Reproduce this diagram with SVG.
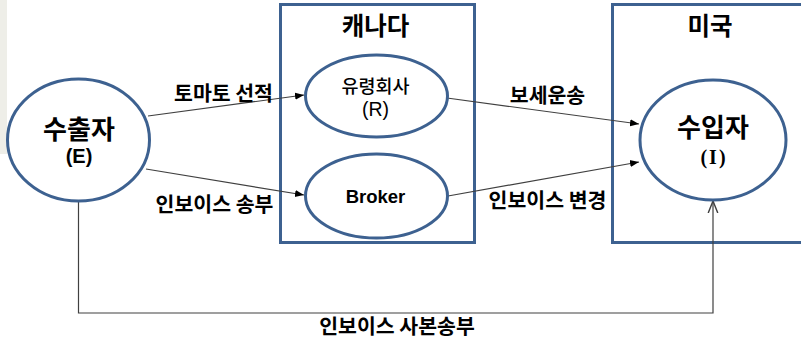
<svg xmlns="http://www.w3.org/2000/svg" width="801" height="339" viewBox="0 0 801 339">
<defs>
<style>
.node{fill:#ffffff;stroke:#3d6190;stroke-width:3}
.box{fill:none;stroke:#3d6190;stroke-width:3}
.con{fill:none;stroke:#404040;stroke-width:1.2}
.t{font-family:"Noto Sans CJK KR","Liberation Sans",sans-serif;font-weight:bold;fill:#000;text-anchor:middle}
.lbl{font-size:20.5px}
.big{font-size:26px}
.ttl{font-size:24.5px}
.lat{font-family:"Liberation Sans",sans-serif;fill:#000;text-anchor:middle}
.ser{font-family:"Liberation Serif",serif;font-weight:bold;font-size:20px;text-anchor:middle;letter-spacing:2px}
</style>
<marker id="ah" viewBox="0 0 10 10" refX="10" refY="5" markerWidth="9" markerHeight="9" markerUnits="userSpaceOnUse" orient="auto">
<path d="M0,1 L10,5 L0,9 Z" fill="#000"/>
</marker>
<marker id="oh" viewBox="0 0 10 10" refX="10" refY="5" markerWidth="12" markerHeight="12" markerUnits="userSpaceOnUse" orient="auto">
<path d="M0,1 L10,5 L0,9" fill="none" stroke="#404040" stroke-width="1.2"/>
</marker>
</defs>
<rect x="0" y="0" width="801" height="339" fill="#ffffff"/>
<rect x="0" y="0" width="7" height="154" fill="#eeeee8"/>

<g id="canada">
<rect class="box" x="280.5" y="4.5" width="194" height="238"/>
<text class="t ttl" x="375.5" y="35">캐나다</text>
</g>
<g id="usa">
<rect class="box" x="612.5" y="4.5" width="200" height="238"/>
<text class="t ttl" x="710" y="35">미국</text>
</g>

<g id="connectors">
<line class="con" x1="148" y1="116" x2="304" y2="95" marker-end="url(#ah)"/>
<line class="con" x1="146" y1="169" x2="304" y2="195" marker-end="url(#ah)"/>
<line class="con" x1="447" y1="98" x2="639" y2="124" marker-end="url(#ah)"/>
<line class="con" x1="448" y1="196" x2="639" y2="162" marker-end="url(#ah)"/>
<polyline class="con" points="78.5,201 78.5,313 713,313 713,201" marker-end="url(#oh)"/>
<text class="t lbl" x="223.5" y="101">토마토 선적</text>
<text class="t lbl" x="214.5" y="212">인보이스 송부</text>
<text class="t lbl" x="547.5" y="103">보세운송</text>
<text class="t lbl" x="547.5" y="208">인보이스 변경</text>
<text class="t lbl" x="397" y="334">인보이스 사본송부</text>
</g>

<g id="exporter">
<ellipse class="node" cx="78.5" cy="140" rx="71" ry="61"/>
<text class="t big" x="79" y="139">수출자</text>
<text class="lat" x="79" y="163" font-size="20" font-weight="bold">(E)</text>
</g>
<g id="shell">
<ellipse class="node" cx="376.5" cy="96" rx="71" ry="41"/>
<text class="t" x="375.5" y="93" font-size="18.5" style="font-weight:500">유령회사</text>
<text class="lat" x="375.5" y="116" font-size="19.5" style="font-weight:500">(R)</text>
</g>
<g id="broker">
<ellipse class="node" cx="376.5" cy="196" rx="71" ry="42"/>
<text class="lat" x="375.5" y="203" font-size="18.5" font-weight="bold">Broker</text>
</g>
<g id="importer">
<ellipse class="node" cx="713" cy="140" rx="73" ry="60"/>
<text class="t big" x="713" y="137">수입자</text>
<text class="ser" x="714" y="164">(I)</text>
</g>
</svg>
